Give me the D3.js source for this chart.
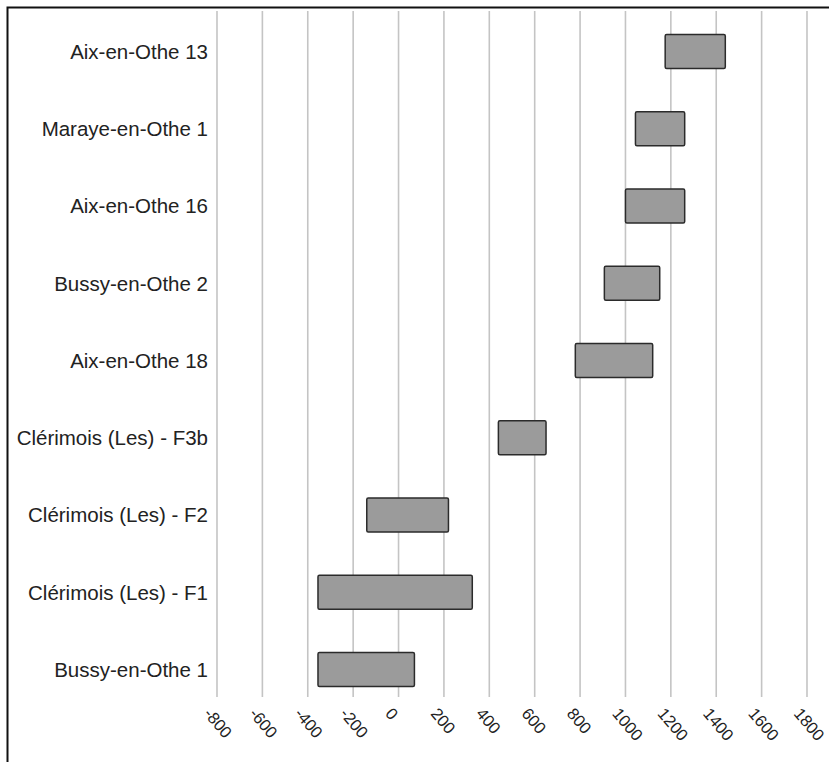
<!DOCTYPE html>
<html><head><meta charset="utf-8">
<script src="https://cdn.jsdelivr.net/npm/d3@7"></script>
<style>body{margin:0;background:#fff;} svg{display:block;}</style>
</head><body>
<script>
const categories = ["Aix-en-Othe 13","Maraye-en-Othe 1","Aix-en-Othe 16","Bussy-en-Othe 2","Aix-en-Othe 18","Clérimois (Les) - F3b","Clérimois (Les) - F2","Clérimois (Les) - F1","Bussy-en-Othe 1"];
const startValues = [1175, 1044, 1000, 907, 779, 440, -140, -355, -355];
const endValues   = [1440, 1261, 1261, 1151, 1120, 650, 220, 325, 70];
const tickValues = [-800,-600,-400,-200,0,200,400,600,800,1000,1200,1400,1600,1800];
const tickLabels = ["-800","-600","-400","-200","0","200","400","600","800","1000","1200","1400","1600","1800"];

const W = 829, H = 762;
const svg = d3.select("body").append("svg").attr("width", W).attr("height", H);
svg.append("rect").attr("width", W).attr("height", H).attr("fill", "#fff");

const x = d3.scaleLinear().domain([-800, 1800]).range([217, 807]);
const y = d3.scalePoint().domain(categories).range([12.9, 708.1]).padding(0.5);
const barH = 34;

// frame (left + top)
svg.append("path").attr("d", `M7.5,${H} L7.5,7.5 L${W},7.5`).attr("fill","none").attr("stroke","#111").attr("stroke-width",2);

// gridlines
svg.append("g").selectAll("line").data(tickValues).join("line")
  .attr("x1", d => x(d)).attr("x2", d => x(d))
  .attr("y1", 11).attr("y2", 697)
  .attr("stroke", "#c4c4c4").attr("stroke-width", 1.6);

// bars
const data = categories.map((c, i) => ({c, s: startValues[i], e: endValues[i]}));
svg.append("g").selectAll("rect").data(data).join("rect")
  .attr("x", d => x(d.s)).attr("width", d => x(d.e) - x(d.s))
  .attr("y", d => y(d.c) - barH/2).attr("height", barH)
  .attr("rx", 1.5)
  .attr("fill", "#9b9b9b").attr("stroke", "#2b2b2b").attr("stroke-width", 1.5);

// category labels
svg.append("g").selectAll("text").data(categories).join("text")
  .attr("x", 208).attr("y", d => y(d)).attr("dy", "0.36em")
  .attr("text-anchor", "end")
  .attr("font-family", "Liberation Sans, Arial, sans-serif").attr("font-size", 20.5)
  .attr("fill", "#222").text(d => d);

// x tick labels
svg.append("g").selectAll("text").data(tickValues).join("text")
  .attr("transform", d => `translate(${x(d) - 14},714) rotate(50)`)
  .attr("text-anchor", "start")
  .attr("font-family", "Liberation Sans, Arial, sans-serif").attr("font-size", 16.5)
  .attr("fill", "#222").text((d, i) => tickLabels[i]);
</script>
</body></html>
